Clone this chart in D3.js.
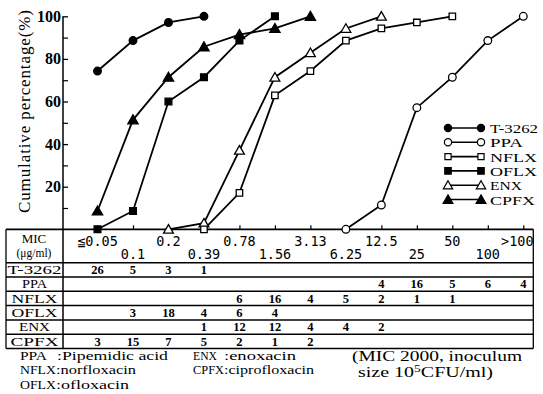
<!DOCTYPE html>
<html><head><meta charset="utf-8">
<script src="https://cdn.jsdelivr.net/npm/d3@7"></script>
<style>body{margin:0;background:#fff}svg{display:block}</style>
</head><body><svg id="c" width="543" height="394"></svg>
<script>
// ---------- data ----------
const categories = ["≦0.05","0.1","0.2","0.39","0.78","1.56","3.13","6.25","12.5","25","50","100",">100"];
const drugs = ["T-3262","PPA","NFLX","OFLX","ENX","CPFX"];
// cumulative percentage (%), aligned with categories (null = no point)
const cumT3262 = [74.3,88.6,97.1,100,null,null,null,null,null,null,null,null,null];
const cumPPA   = [null,null,null,null,null,null,null,0,11.4,57.1,71.4,88.6,100];
const cumNFLX  = [null,null,null,0,17.1,62.9,74.3,88.6,94.3,97.1,100,null,null];
const cumOFLX  = [0,8.6,60,71.4,88.6,100,null,null,null,null,null,null,null];
const cumENX   = [null,null,0,2.9,37.1,71.4,82.9,94.3,100,null,null,null,null];
const cumCPFX  = [8.6,51.4,71.4,85.7,91.4,94.3,100,null,null,null,null,null,null];
// number of strains at each MIC (table)
const nT3262 = [26,5,3,1,null,null,null,null,null,null,null,null,null];
const nPPA   = [null,null,null,null,null,null,null,null,4,16,5,6,4];
const nNFLX  = [null,null,null,null,6,16,4,5,2,1,1,null,null];
const nOFLX  = [null,3,18,4,6,4,null,null,null,null,null,null,null];
const nENX   = [null,null,null,1,12,12,4,4,2,null,null,null,null];
const nCPFX  = [3,15,7,5,2,1,2,null,null,null,null,null,null];
const yTicks = [20,40,60,80,100];
const yMinor = [10,30,50,70,90];
const notesLeft = [["PPA",":Pipemidic acid"],["NFLX",":norfloxacin"],["OFLX",":ofloxacin"]];
const notesMid = [["ENX",":enoxacin"],["CPFX",":ciprofloxacin"]];
const notesRight = ["(MIC 2000, inoculum","size 10","5","CFU/ml)"];

const cum = [cumT3262,cumPPA,cumNFLX,cumOFLX,cumENX,cumCPFX];
const counts = [nT3262,nPPA,nNFLX,nOFLX,nENX,nCPFX];
const markers = [
  {type:d3.symbolCircle, size:46, fill:"#000"},
  {type:d3.symbolCircle, size:46, fill:"#fff"},
  {type:d3.symbolSquare, size:42, fill:"#fff"},
  {type:d3.symbolSquare, size:46, fill:"#000"},
  {type:d3.symbolTriangle, size:42, fill:"#fff"},
  {type:d3.symbolTriangle, size:46, fill:"#000"}
];

// ---------- layout ----------
const svg = d3.select("#c");
const serif = "'Liberation Serif','Times New Roman',serif";
const mono = "'DejaVu Sans Mono',monospace";
const x = d3.scalePoint().domain(categories).range([97.5, 523.3]).padding(0);
const y = d3.scaleLinear().domain([0,100]).range([229.3, 16.3]);
const axisX = 63, tLeft = 6, tRight = 533.3, tTop = y(0), headBot = 262.7, rowH = 14.3;
const tBot = headBot + rowH*drugs.length;

// y axis
svg.append("line").attr("x1",axisX).attr("x2",axisX).attr("y1",y(100)).attr("y2",tBot)
  .attr("stroke","#000").attr("stroke-width",1.5);
const ga = svg.append("g").attr("transform",`translate(${axisX},0)`)
  .call(d3.axisRight(y).tickValues(yTicks).tickSize(5).tickFormat(""));
ga.select(".domain").remove();
ga.selectAll("line").attr("stroke-width",1.3);
const gm = svg.append("g").attr("transform",`translate(${axisX},0)`)
  .call(d3.axisRight(y).tickValues(yMinor).tickSize(5).tickFormat(""));
gm.select(".domain").remove();
gm.selectAll("line").attr("stroke-width",1.2);
svg.append("g").selectAll("text").data(yTicks).join("text")
  .attr("x",61).attr("y",d=>y(d)+5.5).attr("text-anchor","end")
  .attr("font-family",serif).attr("font-weight","bold").attr("font-size",16).text(d=>d);
svg.append("text").attr("transform",`translate(30,${(10+213)/2}) rotate(-90)`)
  .attr("text-anchor","middle").attr("font-family",serif).attr("font-size",17)
  .attr("textLength",203).attr("lengthAdjust","spacing").text("Cumulative percentage(%)");

// x axis ticks (upward)
const gx = svg.append("g").attr("transform",`translate(0,${tTop})`)
  .call(d3.axisTop(x).tickSize(4).tickFormat(""));
gx.select(".domain").remove();
gx.selectAll("line").attr("stroke-width",1.2);

// table lines
const hLines = [tTop, headBot].concat(drugs.map((d,i)=>headBot+rowH*(i+1)));
svg.append("g").selectAll("line").data(hLines).join("line")
  .attr("x1",tLeft).attr("x2",tRight).attr("y1",d=>d).attr("y2",d=>d)
  .attr("stroke","#000").attr("stroke-width",(d,i)=>i===0?1.8:1.5);
svg.append("g").selectAll("line").data([tLeft,tRight]).join("line")
  .attr("x1",d=>d).attr("x2",d=>d).attr("y1",tTop).attr("y2",tBot)
  .attr("stroke","#000").attr("stroke-width",1.3);

// header
svg.append("text").attr("x",34).attr("y",243).attr("text-anchor","middle")
  .attr("font-family",serif).attr("font-size",13).text("MIC");
svg.append("text").attr("x",34).attr("y",256.5).attr("text-anchor","middle")
  .attr("font-family",serif).attr("font-size",11.5).text("(μg/ml)");
svg.append("g").selectAll("text").data(categories).join("text")
  .attr("x",(d,i)=> i===categories.length-1 ? x(d)-6 : x(d))
  .attr("y",(d,i)=> i%2===0 ? 245.5 : 259)
  .attr("text-anchor","middle").attr("font-family",mono).attr("font-size",13.5)
  .text(d=>d);

// rows
const labelLen = [54,25,46,46,31,48];
drugs.forEach((dn,r)=>{
  const yb = headBot + rowH*r + rowH - 3;
  svg.append("text").attr("x",34.5).attr("y",yb).attr("text-anchor","middle")
    .attr("font-family",serif).attr("font-size",13)
    .attr("textLength",labelLen[r]).attr("lengthAdjust","spacingAndGlyphs").text(dn);
  svg.append("g").selectAll("text").data(categories.map((c,i)=>({c,v:counts[r][i]})).filter(d=>d.v!=null))
    .join("text").attr("x",d=>x(d.c)).attr("y",yb)
    .attr("text-anchor","middle").attr("font-family",serif).attr("font-weight","bold")
    .attr("font-size",12.5).text(d=>d.v);
});

// series
const line = d3.line().defined(d=>d.v!=null).x(d=>x(d.c)).y(d=>y(d.v));
const order = [0,1,4,2,3,5];
order.forEach(s=>{
  const pts = categories.map((c,i)=>({c,v:cum[s][i]}));
  svg.append("path").attr("d",line(pts)).attr("fill","none").attr("stroke","#000").attr("stroke-width",1.8);
});
order.forEach(s=>{
  const pts = categories.map((c,i)=>({c,v:cum[s][i]})).filter(d=>d.v!=null);
  const m = markers[s];
  svg.append("g").selectAll("path").data(pts).join("path")
    .attr("transform",d=>`translate(${x(d.c)},${y(d.v) + (m.type===d3.symbolTriangle?1:0)})`)
    .attr("d",d3.symbol().type(m.type).size(m.size))
    .attr("fill",m.fill).attr("stroke","#000").attr("stroke-width",1.3);
});

// legend
const legLen = [48,33,47,47,32,45];
drugs.forEach((dn,i)=>{
  const ly = 128 + i*14.3;
  const m = markers[i];
  const g = svg.append("g");
  g.append("line").attr("x1",448).attr("x2",481).attr("y1",ly).attr("y2",ly).attr("stroke","#000").attr("stroke-width",1.6);
  g.selectAll("path").data([448,481]).join("path")
    .attr("transform",d=>`translate(${d},${ly + (m.type===d3.symbolTriangle?1:0)})`)
    .attr("d",d3.symbol().type(m.type).size(m.size*0.9))
    .attr("fill",m.fill).attr("stroke","#000").attr("stroke-width",1.2);
  g.append("text").attr("x",490).attr("y",ly+5).attr("font-family",serif).attr("font-size",13)
    .attr("textLength",legLen[i]).attr("lengthAdjust","spacingAndGlyphs").text(dn);
});

// notes
const nf = 12.8;
const leftAbbrLen = [27,36,36], leftDescLen = [111,80,73];
notesLeft.forEach((n,i)=>{
  const yb = 359.5 + i*14.8;
  svg.append("text").attr("x",20).attr("y",yb).attr("font-family",serif).attr("font-size",nf)
    .attr("textLength",leftAbbrLen[i]).attr("lengthAdjust","spacingAndGlyphs").text(n[0]);
  svg.append("text").attr("x",i===0?57:56).attr("y",yb).attr("font-family",serif).attr("font-size",nf)
    .attr("textLength",leftDescLen[i]).attr("lengthAdjust","spacingAndGlyphs").text(n[1]);
});
const midAbbrLen = [24,31], midDescLen = [72,90];
notesMid.forEach((n,i)=>{
  const yb = 359.5 + i*14.8;
  svg.append("text").attr("x",193).attr("y",yb).attr("font-family",serif).attr("font-size",nf)
    .attr("textLength",midAbbrLen[i]).attr("lengthAdjust","spacingAndGlyphs").text(n[0]);
  svg.append("text").attr("x",224).attr("y",yb).attr("font-family",serif).attr("font-size",nf)
    .attr("textLength",midDescLen[i]).attr("lengthAdjust","spacingAndGlyphs").text(n[1]);
});
svg.append("text").attr("x",352).attr("y",360.5).attr("font-family",serif).attr("font-size",14)
  .attr("textLength",170).attr("lengthAdjust","spacingAndGlyphs").text(notesRight[0]);
const t2 = svg.append("text").attr("x",358).attr("y",376.5).attr("font-family",serif).attr("font-size",14)
  .attr("textLength",135).attr("lengthAdjust","spacingAndGlyphs");
t2.append("tspan").text(notesRight[1]);
t2.append("tspan").attr("dy",-5).attr("font-size",9.5).text(notesRight[2]);
t2.append("tspan").attr("dy",5).text(notesRight[3]);
</script></body></html>
